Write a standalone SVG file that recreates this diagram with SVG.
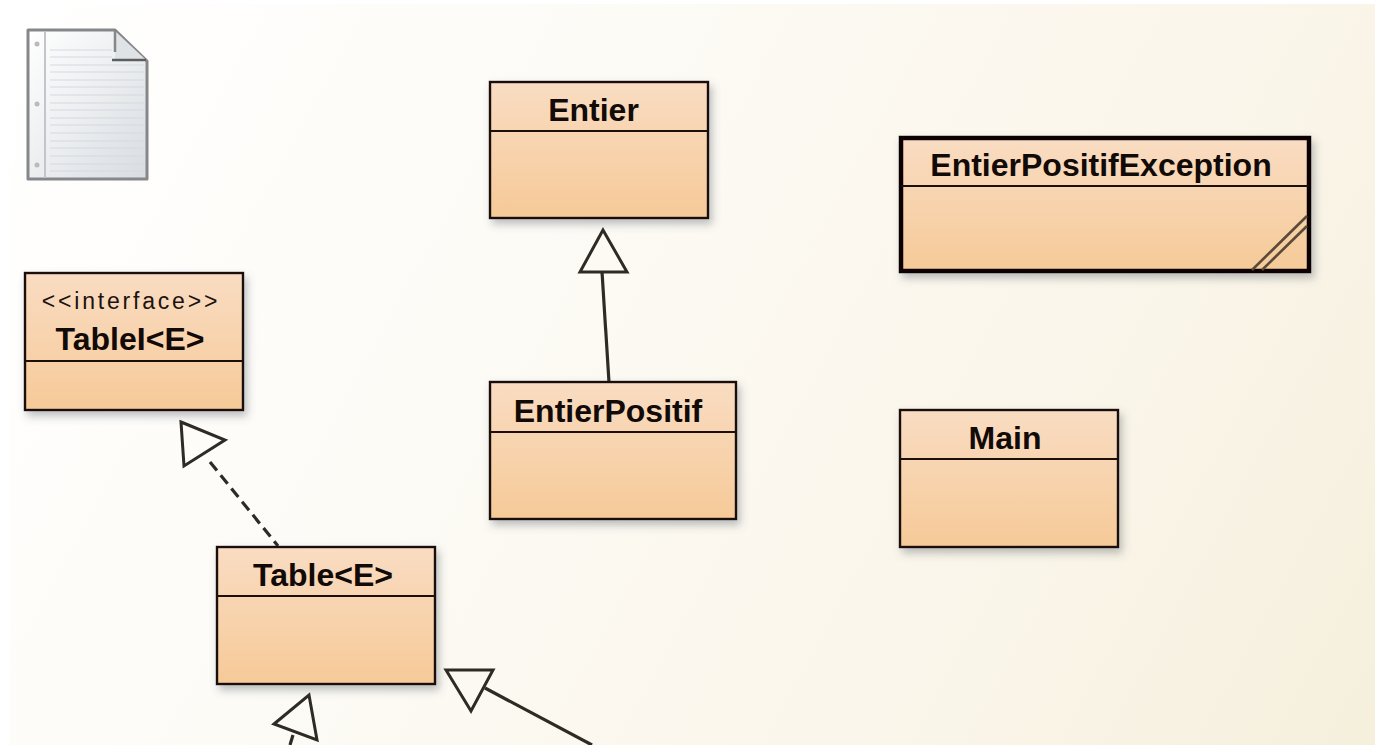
<svg xmlns="http://www.w3.org/2000/svg" width="1377" height="745" viewBox="0 0 1377 745">
<style>
.box{fill:url(#boxFill);stroke:#1c0f08;stroke-width:2.4;filter:url(#shadow)}
.div{stroke:#1c0f08;stroke-width:2.2;fill:none}
.name{font-family:"Liberation Sans",Arial,sans-serif;font-weight:700;font-size:32px;fill:#120a06;text-anchor:middle}
.stereo{font-family:"Liberation Sans",Arial,sans-serif;font-size:23px;letter-spacing:2.8px;fill:#1c1210;text-anchor:middle}
.edge{stroke:#2e2a24;stroke-width:3.2;fill:none}
.head{stroke:#2e2a24;stroke-width:3;fill:none;stroke-linejoin:miter}
.rule{stroke:#d3dae3;stroke-width:1.2}
</style>
<defs>
<linearGradient id="bg" gradientUnits="userSpaceOnUse" x1="10" y1="4" x2="1375" y2="745">
<stop offset="0" stop-color="#ffffff"/><stop offset="0.35" stop-color="#fdfbf6"/><stop offset="0.75" stop-color="#faf5e9"/><stop offset="1" stop-color="#f5efdc"/>
</linearGradient>
<linearGradient id="boxFill" x1="0" y1="0" x2="0" y2="1">
<stop offset="0" stop-color="#f9dcc2"/><stop offset="1" stop-color="#f6ca98"/>
</linearGradient>
<linearGradient id="paper" x1="0" y1="0" x2="1" y2="1">
<stop offset="0" stop-color="#ffffff"/><stop offset="1" stop-color="#d9dde0"/>
</linearGradient>
<filter id="shadow" x="-10%" y="-10%" width="125%" height="130%">
<feDropShadow dx="3" dy="5" stdDeviation="4" flood-color="#58606a" flood-opacity="0.4"/>
</filter>
<filter id="soft" x="-5%" y="-5%" width="110%" height="110%">
<feGaussianBlur stdDeviation="0.7"/>
</filter>
</defs>
<rect width="1377" height="745" fill="#ffffff"/>
<rect x="10" y="4" width="1365" height="741" fill="url(#bg)"/>

<g id="note" filter="url(#soft)">
<path d="M28 30H115L147 61V179H28Z" fill="url(#paper)" stroke="#85878a" stroke-width="3" stroke-linejoin="round"/>
<g class="rule">
<line x1="50" y1="50" x2="112" y2="50"/><line x1="50" y1="57" x2="112" y2="57"/><line x1="50" y1="65" x2="144" y2="65"/><line x1="50" y1="72" x2="144" y2="72"/><line x1="50" y1="80" x2="144" y2="80"/><line x1="50" y1="87" x2="144" y2="87"/><line x1="50" y1="95" x2="144" y2="95"/><line x1="50" y1="103" x2="144" y2="103"/><line x1="50" y1="110" x2="144" y2="110"/><line x1="50" y1="118" x2="144" y2="118"/><line x1="50" y1="125" x2="144" y2="125"/><line x1="50" y1="133" x2="144" y2="133"/><line x1="50" y1="141" x2="144" y2="141"/><line x1="50" y1="148" x2="144" y2="148"/><line x1="50" y1="156" x2="144" y2="156"/><line x1="50" y1="164" x2="144" y2="164"/><line x1="50" y1="171" x2="144" y2="171"/>
</g>
<line x1="45" y1="31" x2="45" y2="178" stroke="#c5c3cc" stroke-width="2"/>
<circle cx="37" cy="44" r="2.5" fill="#b9bcbf"/><circle cx="37" cy="104" r="2.5" fill="#b9bcbf"/><circle cx="37" cy="165" r="2.5" fill="#b9bcbf"/>
<path d="M115 31V60H146Z" fill="#dfe3e6"/>
<path d="M115 31V52" stroke="#85878a" stroke-width="2.5" fill="none"/>
<path d="M112 60H146" stroke="#5b5e62" stroke-width="2.5" fill="none"/>
</g>

<g id="connectors">
<line class="edge" x1="602" y1="272" x2="609" y2="382"/>
<path class="head" d="M603 230L580 272H627Z"/>
<line class="edge" x1="210" y1="462" x2="278" y2="546" stroke-dasharray="11 6"/>
<path class="head" d="M181 422L225 440L184 466Z"/>
<line class="edge" x1="293" y1="735" x2="290" y2="745"/>
<path class="head" d="M274 724L309 695L317 740Z"/>
<line class="edge" x1="485" y1="688" x2="592" y2="745"/>
<path class="head" d="M446 670H493L471 711Z"/>
</g>

<g id="entier">
<rect class="box" x="490" y="82" width="218" height="136"/>
<line class="div" x1="490" y1="131" x2="708" y2="131"/>
<text class="name" x="593.5" y="121">Entier</text>
</g>
<g id="entier-positif">
<rect class="box" x="490" y="382" width="246" height="137"/>
<line class="div" x1="490" y1="432" x2="736" y2="432"/>
<text class="name" x="608" y="422">EntierPositif</text>
</g>
<g id="entier-positif-exception">
<rect class="box" x="901" y="138" width="408" height="133" style="stroke-width:4.5;stroke:#0a0403"/>
<line class="div" x1="901" y1="186" x2="1309" y2="186"/>
<text class="name" x="1101" y="176">EntierPositifException</text>
<path d="M1252 270L1307 216M1262 270L1307 226" stroke="#5c4a38" stroke-width="2.6" fill="none"/>
</g>
<g id="main">
<rect class="box" x="900" y="410" width="218" height="137"/>
<line class="div" x1="900" y1="459" x2="1118" y2="459"/>
<text class="name" x="1005" y="449">Main</text>
</g>
<g id="tablei">
<rect class="box" x="25" y="273" width="218" height="137"/>
<line class="div" x1="25" y1="361" x2="243" y2="361"/>
<text class="stereo" x="131" y="309">&lt;&lt;interface&gt;&gt;</text>
<text class="name" x="130" y="350">TableI&lt;E&gt;</text>
</g>
<g id="table">
<rect class="box" x="217" y="547" width="218" height="137"/>
<line class="div" x1="217" y1="596" x2="435" y2="596"/>
<text class="name" x="323" y="586">Table&lt;E&gt;</text>
</g>
</svg>
